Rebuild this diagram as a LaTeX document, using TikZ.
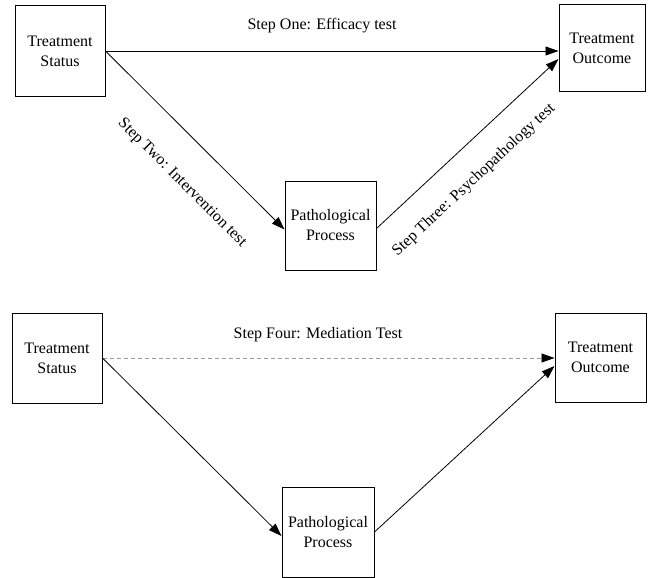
\documentclass[tikz,border=0pt]{standalone}
\usepackage{fontspec}
\setmainfont{Liberation Serif}
\usetikzlibrary{arrows.meta,calc}
\begin{document}
\begin{tikzpicture}[x=1pt,y=-1pt,
  box/.style={draw,line width=1pt,minimum width=#1,inner sep=0pt,align=center,
    font=\fontsize{16}{20}\selectfont},
  tip/.style={-{Triangle[length=13pt,width=9pt]}},
  conn/.style={line width=0.8pt,tip},
  lbl/.style={font=\fontsize{16}{20}\selectfont,inner sep=0pt}]
\useasboundingbox (0,0) rectangle (653,578);
% top panel
\node[box=90pt,minimum height=90pt] (ts1) at (60,51) {Treatment\\Status};
\node[box=86pt,minimum height=86pt] (to1) at (602,48) {Treatment\\Outcome};
\node[box=91pt,minimum height=89pt] (pp1) at (330.5,225.5) {Pathological\\Process};
\draw[conn] (ts1.east) -- (to1.west |- ts1.east);
\draw[conn] (ts1.east) -- ($(pp1.west)+(0,4)$);
\draw[conn] ($(pp1.east)+(0,3)$) -- ($(to1.west)+(0,11)$);
\node[lbl] (l1) at (322,26) {Step One: Efficacy test};
\node[lbl,rotate=-45] (l2) at (182,183) {Step Two: Intervention test};
\node[lbl,rotate=43] (l3) at (474,180) {Step Three: Psychopathology test};
% bottom panel
\node[box=90pt,minimum height=90pt] (ts2) at (57,358) {Treatment\\Status};
\node[box=91pt,minimum height=89pt] (to2) at (600.5,357.5) {Treatment\\Outcome};
\node[box=92pt,minimum height=90pt] (pp2) at (328,532) {Pathological\\Process};
\coordinate (dend) at ($(to2.west |- ts2.east)+(-12,0)$);
\draw[line width=0.8pt,gray!80,dash pattern=on 4pt off 3pt] (ts2.east) -- (dend);
\draw[line width=0.8pt,tip] (dend) -- (to2.west |- ts2.east);
\draw[conn] (ts2.east) -- ($(pp2.west)+(0,4)$);
\draw[conn] (pp2.east) -- ($(to2.west)+(0,8.5)$);
\node[lbl] (l4) at (318,335) {Step Four: Mediation Test};
\end{tikzpicture}
\end{document}
